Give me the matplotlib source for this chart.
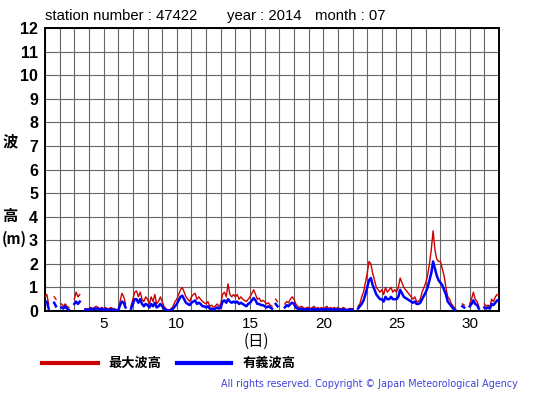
"""Wave height chart, station 47422, July 2014 (3-hourly max / significant wave height)."""
import numpy as np, matplotlib
matplotlib.use("Agg")
import matplotlib.pyplot as plt

nan = np.nan
days = list(range(1, 32))
steps_per_day = 8

# max wave height (m), 8 values per day (00,03,...,21h), then last value at day 32.0
max_wave = [
    [0.6, 0.7, 0.3, nan, nan, 0.6, 0.5, nan],    # 1
    [nan, 0.3, 0.2, 0.3, 0.2, 0.15, nan, nan],   # 2
    [0.5, 0.8, 0.6, 0.7, nan, nan, 0.1, 0.1],    # 3
    [0.1, 0.15, 0.1, 0.15, 0.2, 0.15, 0.1, 0.15],  # 4
    [0.1, 0.15, 0.1, 0.1, 0.15, 0.1, 0.1, 0.05],   # 5
    [0.05, 0.4, 0.75, 0.6, 0.3, nan, nan, 0.2],  # 6
    [0.5, 0.8, 0.85, 0.6, 0.8, 0.5, 0.4, 0.6],   # 7
    [0.5, 0.3, 0.6, 0.4, 0.7, 0.3, 0.4, 0.6],    # 8
    [0.4, 0.2, 0.1, 0.05, 0.05, 0.1, 0.2, 0.4],  # 9
    [0.5, 0.7, 0.9, 1.0, 0.8, 0.6, 0.5, 0.4],    # 10
    [0.6, 0.7, 0.75, 0.5, 0.6, 0.5, 0.4, 0.35],  # 11
    [0.3, 0.4, 0.2, 0.25, 0.15, 0.2, 0.3, 0.2],  # 12
    [0.3, 0.7, 0.8, 0.6, 1.15, 0.7, 0.6, 0.7],   # 13
    [0.6, 0.7, 0.5, 0.6, 0.5, 0.45, 0.4, 0.5],   # 14
    [0.6, 0.75, 0.9, 0.7, 0.5, 0.55, 0.4, 0.45], # 15
    [0.4, 0.3, 0.35, 0.25, 0.2, nan, 0.5, 0.4],  # 16
    [nan, nan, nan, 0.3, 0.4, 0.35, 0.5, 0.6],   # 17
    [0.5, 0.3, 0.2, 0.15, 0.2, 0.15, 0.1, 0.15], # 18
    [0.15, 0.1, 0.15, 0.2, 0.1, 0.15, 0.1, 0.15],  # 19
    [0.1, 0.15, 0.2, 0.1, 0.15, 0.1, 0.15, 0.1],   # 20
    [0.15, 0.1, 0.1, 0.15, 0.1, 0.05, 0.1, 0.1],   # 21
    [0.1, nan, nan, 0.2, 0.3, 0.6, 0.8, 1.2],    # 22
    [1.6, 2.1, 2.0, 1.6, 1.3, 1.0, 0.9, 0.8],    # 23
    [0.9, 0.7, 1.0, 0.8, 0.9, 1.0, 0.8, 0.9],    # 24
    [0.8, 1.0, 1.4, 1.2, 1.0, 0.9, 0.8, 0.7],    # 25
    [0.6, 0.5, 0.6, 0.4, 0.4, 0.5, 0.8, 1.0],    # 26
    [1.2, 1.5, 2.0, 2.6, 3.4, 2.6, 2.2, 2.1],    # 27
    [2.1, 1.8, 1.5, 1.0, 0.6, 0.5, 0.3, 0.2],    # 28
    [0.1, nan, nan, nan, 0.3, 0.25, nan, nan],   # 29
    [0.3, 0.5, 0.8, 0.5, 0.4, 0.2, nan, nan],    # 30
    [0.3, 0.2, 0.25, 0.15, 0.5, 0.4, 0.6, 0.7],  # 31
]
max_wave_end = 0.7

sig_wave = [
    [0.35, 0.4, 0.1, nan, nan, 0.35, 0.2, nan],
    [nan, 0.15, 0.1, 0.2, 0.1, 0.05, nan, nan],
    [0.3, 0.4, 0.3, 0.4, nan, nan, 0.05, 0.05],
    [0.05, 0.1, 0.05, 0.1, 0.1, 0.1, 0.05, 0.1],
    [0.05, 0.08, 0.05, 0.05, 0.08, 0.05, 0.05, 0.02],
    [0.02, 0.25, 0.4, 0.35, 0.15, nan, nan, 0.1],
    [0.3, 0.5, 0.5, 0.35, 0.5, 0.3, 0.2, 0.3],
    [0.25, 0.15, 0.3, 0.2, 0.35, 0.15, 0.2, 0.3],
    [0.2, 0.1, 0.05, 0.02, 0.02, 0.05, 0.1, 0.2],
    [0.3, 0.45, 0.6, 0.65, 0.5, 0.35, 0.3, 0.25],
    [0.35, 0.4, 0.45, 0.3, 0.35, 0.3, 0.2, 0.2],
    [0.15, 0.2, 0.1, 0.1, 0.05, 0.1, 0.15, 0.1],
    [0.15, 0.4, 0.45, 0.35, 0.5, 0.4, 0.35, 0.4],
    [0.35, 0.4, 0.3, 0.35, 0.3, 0.25, 0.2, 0.3],
    [0.35, 0.45, 0.55, 0.45, 0.3, 0.3, 0.25, 0.25],
    [0.2, 0.15, 0.2, 0.15, 0.1, nan, 0.3, 0.2],
    [nan, nan, nan, 0.15, 0.25, 0.2, 0.3, 0.35],
    [0.3, 0.15, 0.1, 0.08, 0.1, 0.08, 0.05, 0.08],
    [0.08, 0.05, 0.08, 0.1, 0.05, 0.08, 0.05, 0.08],
    [0.05, 0.08, 0.1, 0.05, 0.08, 0.05, 0.08, 0.05],
    [0.08, 0.05, 0.05, 0.08, 0.05, 0.02, 0.05, 0.05],
    [0.05, nan, nan, 0.1, 0.2, 0.3, 0.45, 0.7],
    [1.0, 1.3, 1.4, 1.1, 0.9, 0.7, 0.6, 0.5],
    [0.5, 0.4, 0.6, 0.5, 0.5, 0.6, 0.5, 0.5],
    [0.5, 0.6, 0.9, 0.75, 0.6, 0.55, 0.5, 0.45],
    [0.4, 0.35, 0.4, 0.3, 0.3, 0.35, 0.5, 0.65],
    [0.8, 1.0, 1.3, 1.6, 2.1, 1.8, 1.5, 1.3],
    [1.2, 1.1, 0.9, 0.7, 0.4, 0.3, 0.2, 0.1],
    [0.05, nan, nan, nan, 0.2, 0.15, nan, nan],
    [0.2, 0.3, 0.45, 0.3, 0.25, 0.1, nan, nan],
    [0.15, 0.1, 0.15, 0.1, 0.3, 0.25, 0.35, 0.45],
]
sig_wave_end = 0.45

station, year, month = "47422", "2014", "07"
xtick_labels = ["5", "10", "15", "20", "25", "30"]
ytick_labels = [str(v) for v in range(0, 13)]
legend_labels = ["最大波高", "有義波高"]

JP = ["Noto Sans CJK JP", "DejaVu Sans"]


def series(rows, end):
    t = [d + k / steps_per_day for d in days for k in range(steps_per_day)] + [days[-1] + 1]
    v = [x for r in rows for x in r] + [end]
    return np.array(t), np.array(v)


def main(out="out.png"):
    plt.rcParams["font.family"] = ["Liberation Sans", "DejaVu Sans"]
    fig = plt.figure(figsize=(5.55, 3.95), dpi=100)
    ax = fig.add_axes([45 / 555, 1 - 311 / 395, 454 / 555, 283 / 395])

    t, red = series(max_wave, max_wave_end)
    _, blue = series(sig_wave, sig_wave_end)
    ax.plot(t, red, color="#cc0000", lw=1.0, zorder=3)
    ax.plot(t, blue, color="#0000ff", lw=1.8, zorder=4)

    ax.set_xlim(1, 32); ax.set_ylim(0, 12)
    ax.set_xticks(np.arange(1, 33), minor=True)
    ax.set_xticks([int(s) for s in xtick_labels])
    ax.set_xticklabels(xtick_labels, fontsize=11)
    ax.set_yticks(range(0, 13))
    ax.set_yticklabels(ytick_labels, fontsize=11.5, fontweight="bold")
    ax.grid(True, which="both", color="#666666", lw=0.8, zorder=1)
    ax.tick_params(which="both", length=0)
    ax.tick_params(axis="x", pad=4)
    ax.tick_params(axis="y", pad=5)
    for s in ax.spines.values():
        s.set_linewidth(1.4)

    fig.text(45 / 555, 1 - 16 / 395, f"station number : {station}", fontsize=10.7, va="center")
    fig.text(227 / 555, 1 - 16 / 395, f"year : {year}", fontsize=10.7, va="center")
    fig.text(315 / 555, 1 - 16 / 395, f"month : {month}", fontsize=10.7, va="center")

    fig.text(10 / 555, 1 - 141 / 395, "波", family=JP, fontsize=11, fontweight="bold", ha="center", va="center")
    fig.text(10 / 555, 1 - 216 / 395, "高", family=JP, fontsize=11, fontweight="bold", ha="center", va="center")
    fig.text(14 / 555, 1 - 239 / 395, "(m)", family=JP, fontsize=10.5, fontweight="bold", ha="center", va="center")
    fig.text(256 / 555, 1 - 341 / 395, "(日)", family=JP, fontsize=11, ha="center", va="center")

    # legend drawn by hand, as in the original layout
    fig.add_artist(plt.Line2D([42 / 555, 98 / 555], [1 - 363 / 395] * 2, color="#cc0000", lw=3))
    fig.text(108 / 555, 1 - 363 / 395, legend_labels[0], family=JP, fontsize=9.5, fontweight="bold", va="center")
    fig.add_artist(plt.Line2D([177 / 555, 231 / 555], [1 - 363 / 395] * 2, color="#0000ff", lw=3))
    fig.text(243 / 555, 1 - 363 / 395, legend_labels[1], family=JP, fontsize=9.5, fontweight="bold", va="center")

    fig.text(518 / 555, 1 - 384 / 395, "All rights reserved. Copyright © Japan Meteorological Agency",
             family="DejaVu Sans", fontsize=6.9, color="#4040dd", ha="right", va="center")
    fig.savefig(out, dpi=100)


if __name__ == "__main__":
    main()
